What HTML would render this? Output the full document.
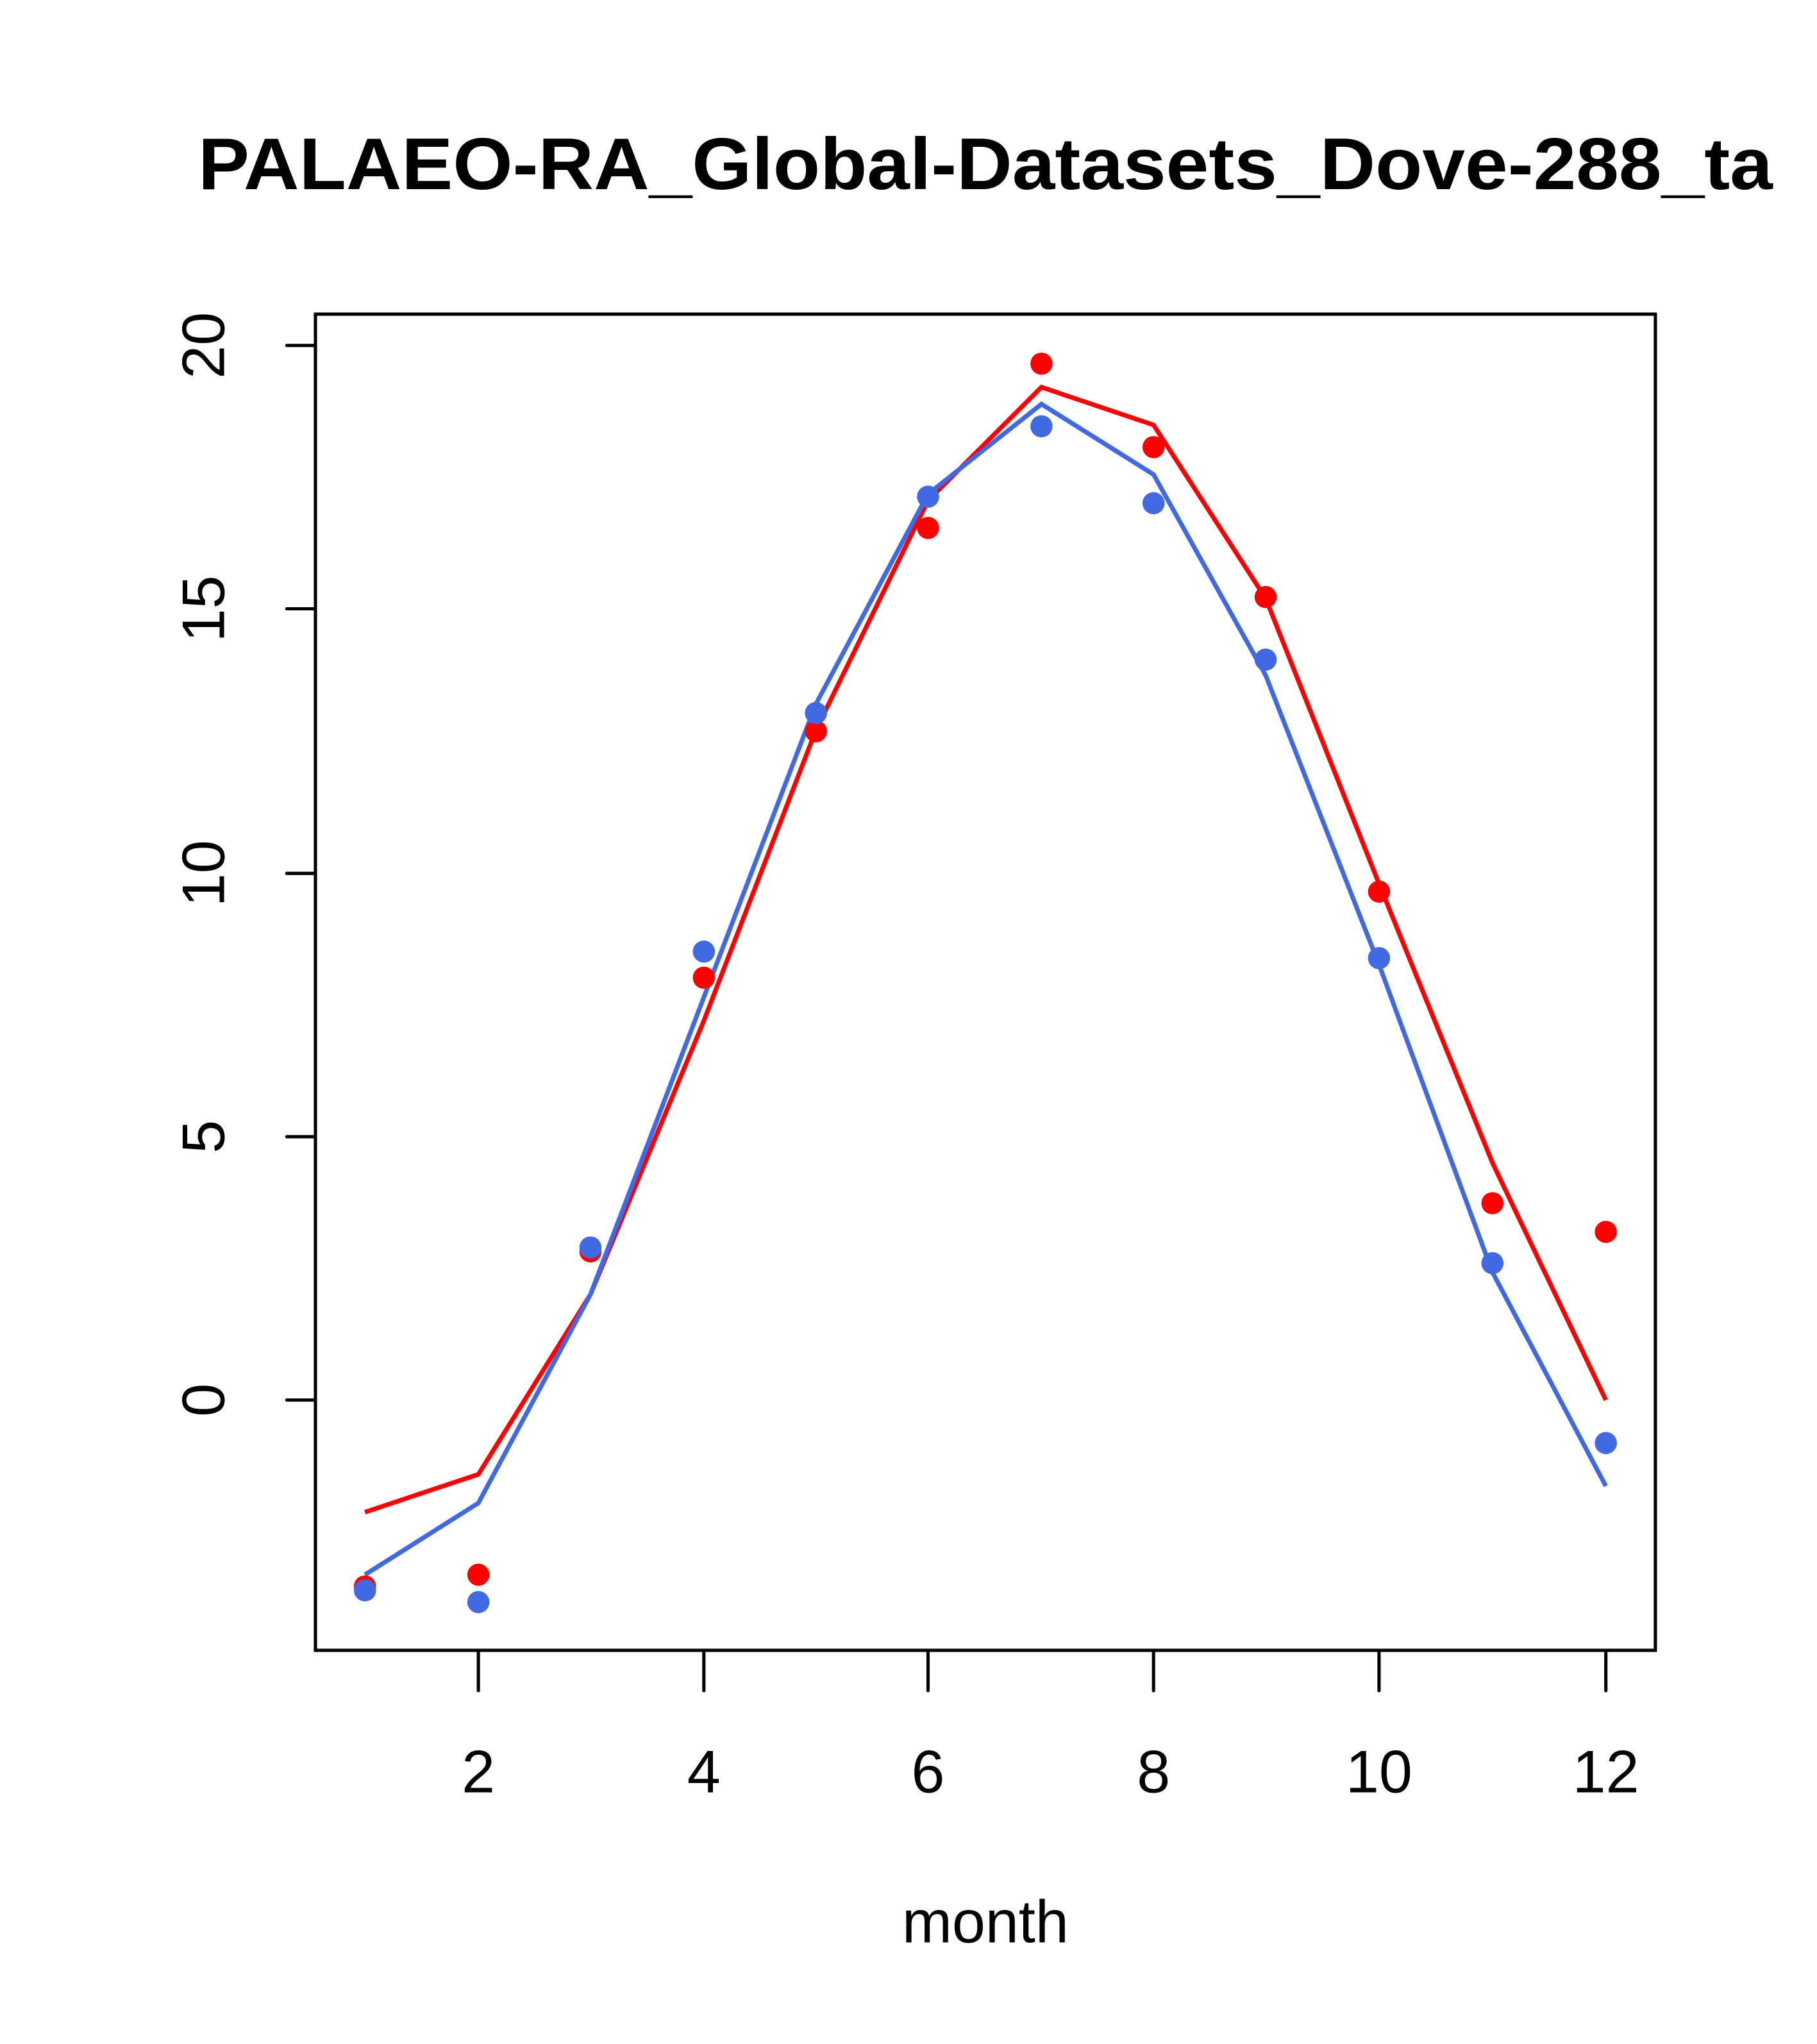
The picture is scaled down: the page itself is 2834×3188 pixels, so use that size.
<!DOCTYPE html>
<html><head><style>html,body{margin:0;padding:0;background:#fff}svg{display:block}</style></head>
<body>
<svg width="2834" height="3188" viewBox="0 0 1394 1568" preserveAspectRatio="none" xmlns="http://www.w3.org/2000/svg" font-family="Liberation Sans, Arial, sans-serif">
<rect width="1394" height="1568" fill="#fff"/>
<text x="152" y="145" font-size="56" font-weight="bold" textLength="1208" lengthAdjust="spacingAndGlyphs">PALAEO-RA_Global-Datasets_Dove-288_ta</text>
<rect x="242" y="241" width="1028" height="1025" fill="none" stroke="#000" stroke-width="2.5"/>
<g stroke="#000" stroke-width="2.5" stroke-linecap="round">
<line x1="242" y1="1074" x2="220" y2="1074"/><line x1="242" y1="872" x2="220" y2="872"/><line x1="242" y1="670" x2="220" y2="670"/><line x1="242" y1="467" x2="220" y2="467"/><line x1="242" y1="265" x2="220" y2="265"/>
<line x1="367" y1="1266" x2="367" y2="1297"/><line x1="540" y1="1266" x2="540" y2="1297"/><line x1="712" y1="1266" x2="712" y2="1297"/><line x1="885" y1="1266" x2="885" y2="1297"/><line x1="1058" y1="1266" x2="1058" y2="1297"/><line x1="1232" y1="1266" x2="1232" y2="1297"/>
</g>
<g font-size="46" text-anchor="middle">
<text x="367" y="1375">2</text><text x="540" y="1375">4</text><text x="712" y="1375">6</text><text x="885" y="1375">8</text><text x="1058" y="1375">10</text><text x="1232" y="1375">12</text>
<text transform="translate(172,1074) rotate(-90)">0</text>
<text transform="translate(172,872) rotate(-90)">5</text>
<text transform="translate(172,670) rotate(-90)">10</text>
<text transform="translate(172,467) rotate(-90)">15</text>
<text transform="translate(172,265) rotate(-90)">20</text>
<text x="756" y="1490">month</text>
</g>
<polyline fill="none" stroke="#ff0000" stroke-width="3.5" points="280,1160 367,1131 453,993 540,783 626,560 712,384 799,297 885,326 971,459 1058,678 1145,892 1232,1074"/>
<polyline fill="none" stroke="#4169e1" stroke-width="3.5" points="280,1208 367,1153 453,993 540,765 626,540 712,379 799,310 885,364 971,518 1058,740 1145,976 1232,1140"/>
<g fill="#ff0000">
<circle cx="280" cy="1217" r="8.5"/><circle cx="367" cy="1208" r="8.5"/><circle cx="453" cy="960" r="8.5"/><circle cx="540" cy="750" r="8.5"/><circle cx="626" cy="561" r="8.5"/><circle cx="712" cy="405" r="8.5"/><circle cx="799" cy="279" r="8.5"/><circle cx="885" cy="343" r="8.5"/><circle cx="971" cy="458" r="8.5"/><circle cx="1058" cy="684" r="8.5"/><circle cx="1145" cy="923" r="8.5"/><circle cx="1232" cy="945" r="8.5"/>
</g>
<g fill="#4169e1">
<circle cx="280" cy="1220" r="8.5"/><circle cx="367" cy="1229" r="8.5"/><circle cx="453" cy="957" r="8.5"/><circle cx="540" cy="730" r="8.5"/><circle cx="626" cy="547" r="8.5"/><circle cx="712" cy="381" r="8.5"/><circle cx="799" cy="327" r="8.5"/><circle cx="885" cy="386" r="8.5"/><circle cx="971" cy="506" r="8.5"/><circle cx="1058" cy="735" r="8.5"/><circle cx="1145" cy="969" r="8.5"/><circle cx="1232" cy="1107" r="8.5"/>
</g>
</svg>
</body></html>
